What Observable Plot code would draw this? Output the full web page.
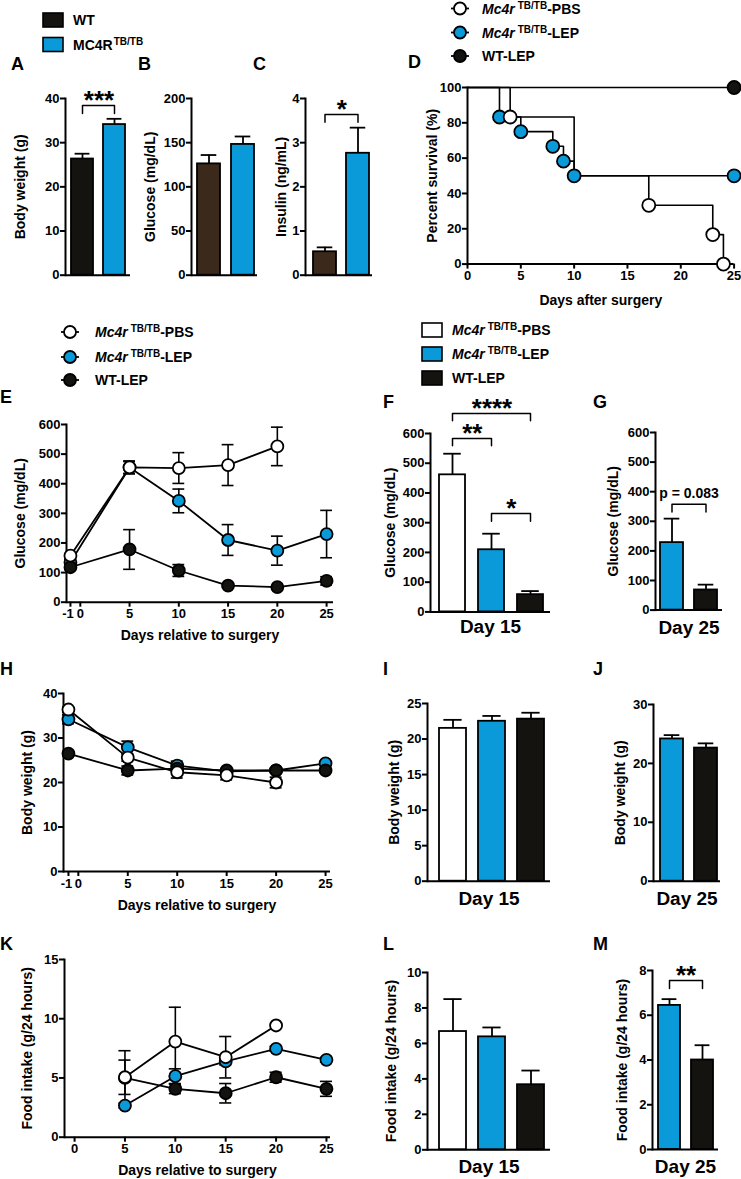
<!DOCTYPE html>
<html>
<head>
<meta charset="utf-8">
<script src="https://cdn.jsdelivr.net/npm/d3@7"></script>
<script src="https://cdn.jsdelivr.net/npm/@observablehq/plot@0.6"></script>
<style>
  html, body { margin: 0; padding: 0; background: #ffffff; }
  #fig { position: relative; width: 741px; height: 1179px; overflow: hidden; background: #fff; }
  #fig .panel { position: absolute; }
  #fig .panel svg { overflow: visible; max-width: none; }
  #overlay { position: absolute; left: 0; top: 0; pointer-events: none; }
</style>
</head>
<body>
<div id="fig"></div>
<script>
// ================= DATA =================
// Panels A–C (baseline WT vs MC4R TB/TB)
const groupsAC = ["WT", "MC4R"];
const bodyWeightA = [26.3, 34.1];
const bodyWeightAErr = [1.2, 1.3];
const glucoseB = [126, 148];
const glucoseBErr = [10, 9];
const insulinC = [0.53, 2.76];
const insulinCErr = [0.1, 0.58];

// Panel D – survival (%)
const survPBSDays = [0, 4, 10, 17, 23, 24];
const survPBSPct = [100, 83.3, 50, 33.3, 16.7, 0];
const survPBSMarks = [4, 17, 23, 24];
const survLEPDays = [0, 3, 5, 8, 9, 10, 25];
const survLEPPct = [100, 83.3, 75, 66.7, 58.3, 50, 50];
const survLEPMarks = [3, 5, 8, 9, 10, 25];
const survWTDays = [0, 25];
const survWTPct = [100, 100];
const survWTMarks = [25];

// Panel E – glucose time course (mg/dL)
const daysE = [-1, 5, 10, 15, 20, 25];
const glucosePBS = [157, 455, 453, 463, 526, null];
const glucosePBSErr = [6, 22, 52, 69, 65, null];
const glucoseLEP = [135, 455, 342, 210, 174, 230];
const glucoseLEPErr = [10, 20, 40, 52, 49, 80];
const glucoseWT = [118, 178, 107, 56, 51, 72];
const glucoseWTErr = [8, 67, 20, 5, 4, 14];

// Panel H – body weight time course (g)
const daysH = [-1, 5, 10, 15, 20, 25];
const weightPBS = [36.4, 25.6, 22.3, 21.6, 20.0, null];
const weightPBSErr = [0.6, 0.8, 1.3, 1.0, 1.2, null];
const weightLEP = [34.2, 27.9, 23.8, 22.5, 22.7, 24.3];
const weightLEPErr = [1.0, 1.4, 1.0, 0.4, 0.5, 0.4];
const weightWT = [26.5, 22.7, 23.1, 22.7, 22.7, 22.7];
const weightWTErr = [0.5, 1.0, 0.5, 0.4, 0.4, 0.4];

// Panel K – food intake time course (g/24 h)
const daysK = [5, 10, 15, 20, 25];
const foodPBS = [5.06, 8.07, 6.75, 9.43, null];
const foodPBSErr = [1.45, 2.9, 1.75, 0, null];
const foodLEP = [2.67, 5.15, 6.4, 7.46, 6.53];
const foodLEPErr = [0.2, 0.62, 0.3, 0.2, 0.2];
const foodWT = [5.0, 4.08, 3.71, 5.06, 4.08];
const foodWTErr = [2.3, 0.4, 0.82, 0.42, 0.63];

// Day 15 / Day 25 bar panels
const groupsDay15 = ["PBS", "LEP", "WT"];
const groupsDay25 = ["LEP", "WT"];
const glucoseDay15 = [461, 209, 58];
const glucoseDay15Err = [71, 54, 12];
const glucoseDay25 = [228, 68];
const glucoseDay25Err = [81, 18];
const weightDay15 = [21.5, 22.5, 22.8];
const weightDay15Err = [1.2, 0.75, 0.9];
const weightDay25 = [24.15, 22.6];
const weightDay25Err = [0.65, 0.8];
const foodDay15 = [6.67, 6.37, 3.67];
const foodDay15Err = [1.83, 0.53, 0.8];
const foodDay25 = [6.44, 4.0];
const foodDay25Err = [0.28, 0.66];

// Tick labels
const ticksA = [0, 10, 20, 30, 40];
const ticksB = [0, 50, 100, 150, 200];
const ticksC = [0, 1, 2, 3, 4];
const ticksDx = [0, 5, 10, 15, 20, 25];
const ticksDy = [0, 20, 40, 60, 80, 100];
const ticksEy = [0, 100, 200, 300, 400, 500, 600];
const ticksTime = [-1, 0, 5, 10, 15, 20, 25];
const ticksHy = [0, 10, 20, 30, 40];
const ticksKx = [0, 5, 10, 15, 20, 25];
const ticksKy = [0, 5, 10, 15];
const ticksI = [0, 5, 10, 15, 20, 25];
const ticksJ = [0, 10, 20, 30];
const ticksL = [0, 2, 4, 6, 8, 10];
const ticksM = [0, 2, 4, 6, 8];

// Significance annotations (bracket top in data units, drop length in data units)
const sigA = [{from: "WT", to: "MC4R", y: 38.4, drop: 1.8, label: "***"}];
const sigC = [{from: "WT", to: "MC4R", y: 3.64, drop: 0.18, label: "*"}];
const sigF = [
  {from: "PBS", to: "LEP", y: 583, drop: 24, label: "**"},
  {from: "PBS", to: "WT", y: 667, drop: 24, label: "****"},
  {from: "LEP", to: "WT", y: 331, drop: 26, label: "*"}
];
const sigG = [{from: "LEP", to: "WT", y: 358, drop: 27, label: "p = 0.083", small: true}];
const sigM = [{from: "LEP", to: "WT", y: 7.55, drop: 0.36, label: "**"}];

// ================= STYLE / LAYOUT =================
const FONT = '"Liberation Sans", Arial, Helvetica, sans-serif';
const BLUE = "#0a9ad9", BLACK = "#15130f", BROWN = "#3b2a1c", WHITE = "#ffffff";
const colorsAB = {WT: BLACK, MC4R: BLUE};
const colorsBC = {WT: BROWN, MC4R: BLUE};
const colors3 = {PBS: WHITE, LEP: BLUE, WT: BLACK};
const fig = document.getElementById("fig");

function makeBox(f, p) {
  return {
    left: f.x0 - p.l, top: f.yt - p.t,
    width: (f.x1 - f.x0) + p.l + p.r, height: (f.yb - f.yt) + p.t + p.b,
    marginLeft: p.l, marginTop: p.t, marginRight: p.r, marginBottom: p.b
  };
}
function place(svg, box) {
  const d = document.createElement("div");
  d.className = "panel";
  d.style.left = box.left + "px"; d.style.top = box.top + "px";
  d.style.width = box.width + "px"; d.style.height = box.height + "px";
  d.appendChild(svg);
  fig.appendChild(d);
}
const plotStyle = {fontFamily: FONT, fontSize: "13px", fontWeight: "bold", color: "#000",
  background: "transparent", overflow: "visible", maxWidth: "none"};
const PAD = {l: 60, t: 12, r: 10, b: 40};

function rows2(groups, vals, errs) {
  return groups.map((g, i) => ({g, v: vals[i], e: errs[i]}));
}
function seriesRows(days, vals, errs) {
  return days.map((d, i) => ({day: d, v: vals[i], e: errs[i]})).filter(r => r.v != null);
}
function yTitle(title, dx) {
  return Plot.text([title], {text: d => d, frameAnchor: "left", rotate: -90, textAnchor: "middle", lineAnchor: "middle",
    dx, fontSize: 14, fontWeight: "bold"});
}
function bottomText(label, dy, size) {
  return Plot.text([label], {text: d => d, frameAnchor: "bottom", textAnchor: "middle", lineAnchor: "middle",
    dy, fontSize: size, fontWeight: "bold"});
}

function barPanel(c) {
  const f = c.f, box = makeBox(f, PAD);
  const n = c.groups.length;
  const step = (f.x1 - f.x0) / (n - c.pi + 2 * c.po);
  const bw = step * (1 - c.pi);
  const rows = rows2(c.groups, c.values, c.errs);
  const marks = [
    Plot.barY(rows, {x: "g", y: "v", fill: d => c.colors[d.g], stroke: "#000", strokeWidth: 1.8}),
    Plot.ruleX(rows, {x: "g", y1: "v", y2: d => d.v + d.e, stroke: "#000", strokeWidth: 1.8}),
    Plot.tickY(rows, {x: "g", y: d => d.v + d.e, stroke: "#000", strokeWidth: 1.8, insetLeft: bw * 0.16, insetRight: bw * 0.16}),
    Plot.ruleY([c.yDomain[0]], {stroke: "#000", strokeWidth: 2}),
    Plot.frame({anchor: "left", stroke: "#000", strokeWidth: 2}),
    Plot.axisY({ticks: c.yTicks, tickSize: 5, tickPadding: 1, strokeWidth: 2, label: null, tickFormat: d => String(d)}),
    yTitle(c.title, c.titleX - f.x0)
  ];
  if (c.day) marks.push(bottomText(c.day, c.dayY - f.yb, 19));
  if (c.sig) {
    const pts = [];
    c.sig.forEach((b, i) => {
      pts.push({id: i, g: b.from, y: b.y - b.drop}, {id: i, g: b.from, y: b.y}, {id: i, g: b.to, y: b.y}, {id: i, g: b.to, y: b.y - b.drop});
    });
    marks.push(Plot.line(pts, {x: "g", y: "y", z: "id", stroke: "#000", strokeWidth: 1.5}));
    c.sig.forEach(b => {
      const span = c.groups.indexOf(b.to) - c.groups.indexOf(b.from);
      marks.push(Plot.text([b], {x: "from", y: "y", text: "label", dx: span * step / 2,
        textAnchor: "middle", lineAnchor: "middle",
        dy: b.small ? -11 : -5, fontSize: b.small ? 14 : 26, fontWeight: "bold"}));
    });
  }
  const svg = Plot.plot({
    width: box.width, height: box.height,
    marginLeft: box.marginLeft, marginTop: box.marginTop, marginRight: box.marginRight, marginBottom: box.marginBottom,
    x: {type: "band", domain: c.groups, paddingInner: c.pi, paddingOuter: c.po, align: c.align, axis: null},
    y: {domain: c.yDomain, axis: null},
    style: plotStyle,
    marks
  });
  place(svg, box);
}

function linePanel(c) {
  const f = c.f, box = makeBox(f, PAD);
  const cap = c.cap;
  const shifted = c.shiftTicks || [];
  const marks = [
    Plot.ruleY([c.yDomain[0]], {stroke: "#000", strokeWidth: 2}),
    Plot.frame({anchor: "left", stroke: "#000", strokeWidth: 2}),
    Plot.axisY({ticks: c.yTicks, tickSize: 5, tickPadding: 1, strokeWidth: 2, label: null, tickFormat: d => String(d)}),
    Plot.axisX({ticks: c.xTicks, tickSize: 5, tickPadding: 2, strokeWidth: 2, label: null,
      tickFormat: d => shifted.includes(d) ? "" : String(d)}),
    yTitle(c.title, c.titleX - f.x0),
    bottomText(c.xTitle, c.xTitleY - f.yb, 14)
  ];
  if (shifted.length) {
    marks.push(Plot.text(shifted, {x: d => d, text: d => String(d), frameAnchor: "bottom", lineAnchor: "top",
      textAnchor: "middle", dy: 7, dx: c.shiftDx, fontSize: 13, fontWeight: "bold"}));
  }
  for (const s of c.series) {
    if (s.step) marks.push(Plot.line(s.rows, {x: "day", y: "v", curve: "step-after", stroke: "#000", strokeWidth: 1.6}));
    else marks.push(Plot.line(s.rows, {x: "day", y: "v", stroke: "#000", strokeWidth: 1.8}));
  }
  for (const s of c.series) {
    if (!s.errors) continue;
    const er = s.rows.filter(r => r.e > 0);
    marks.push(
      Plot.ruleX(er, {x: "day", y1: d => d.v - d.e, y2: d => d.v + d.e, stroke: "#000", strokeWidth: 1.6}),
      Plot.ruleY(er, {x1: d => d.day - cap, x2: d => d.day + cap, y: d => d.v + d.e, stroke: "#000", strokeWidth: 1.6}),
      Plot.ruleY(er.filter(d => d.v - d.e > c.yDomain[0]), {x1: d => d.day - cap, x2: d => d.day + cap, y: d => d.v - d.e, stroke: "#000", strokeWidth: 1.6})
    );
  }
  for (const s of c.series) {
    marks.push(Plot.dot(s.marks || s.rows, {x: "day", y: "v", r: c.r || 6, fill: s.color, stroke: "#000", strokeWidth: 1.8}));
  }
  const svg = Plot.plot({
    width: box.width, height: box.height,
    marginLeft: box.marginLeft, marginTop: box.marginTop, marginRight: box.marginRight, marginBottom: box.marginBottom,
    x: {type: "linear", domain: c.xDomain, axis: null},
    y: {type: "linear", domain: c.yDomain, axis: null},
    style: plotStyle,
    marks
  });
  place(svg, box);
}

// ================= PANELS =================
barPanel({f: {x0: 65, x1: 130, yt: 98.3, yb: 275}, groups: groupsAC, values: bodyWeightA, errs: bodyWeightAErr,
  colors: colorsAB, yDomain: [0, 40], yTicks: ticksA, pi: 0.32, po: 0.145, align: 0.52,
  title: "Body weight (g)", titleX: 20, sig: sigA});
barPanel({f: {x0: 191, x1: 257, yt: 98.3, yb: 275}, groups: groupsAC, values: glucoseB, errs: glucoseBErr,
  colors: colorsBC, yDomain: [0, 200], yTicks: ticksB, pi: 0.32, po: 0.13, align: 0.67,
  title: "Glucose (mg/dL)", titleX: 150});
barPanel({f: {x0: 305, x1: 372, yt: 98.3, yb: 275}, groups: groupsAC, values: insulinC, errs: insulinCErr,
  colors: colorsBC, yDomain: [0, 4], yTicks: ticksC, pi: 0.31, po: 0.145, align: 0.74,
  title: "Insulin (ng/mL)", titleX: 281, sig: sigC});

function pick(days, pct, keep) {
  return days.map((d, i) => ({day: d, v: pct[i]})).filter(r => !keep || keep.includes(r.day));
}
linePanel({f: {x0: 466.7, x1: 733.3, yt: 86.7, yb: 263.3}, xDomain: [0, 25], yDomain: [0, 100],
  xTicks: ticksDx, yTicks: ticksDy, title: "Percent survival (%)", titleX: 432,
  xTitle: "Days after surgery", xTitleY: 300, r: 6.5, cap: 0,
  series: [
    {rows: pick(survWTDays, survWTPct), marks: pick(survWTDays, survWTPct, survWTMarks), color: BLACK, step: true},
    {rows: pick(survPBSDays, survPBSPct), marks: [], color: WHITE, step: true},
    {rows: pick(survLEPDays, survLEPPct), marks: pick(survLEPDays, survLEPPct, survLEPMarks), color: BLUE, step: true},
    {rows: [], marks: pick(survPBSDays, survPBSPct, survPBSMarks), color: WHITE, step: true}
  ]});

linePanel({f: {x0: 66, x1: 333, yt: 424, yb: 601.7}, xDomain: [-1.4, 25.7], yDomain: [0, 600],
  xTicks: ticksTime, yTicks: ticksEy, title: "Glucose (mg/dL)", titleX: 20,
  xTitle: "Days relative to surgery", xTitleY: 635, cap: 0.6, shiftTicks: [-1], shiftDx: -2.5,
  series: [
    {rows: seriesRows(daysE, glucoseLEP, glucoseLEPErr), color: BLUE, errors: true},
    {rows: seriesRows(daysE, glucoseWT, glucoseWTErr), color: BLACK, errors: true},
    {rows: seriesRows(daysE, glucosePBS, glucosePBSErr), color: WHITE, errors: true}
  ]});

linePanel({f: {x0: 63, x1: 330, yt: 692.7, yb: 870.7}, xDomain: [-1.5, 25.5], yDomain: [0, 40],
  xTicks: ticksTime, yTicks: ticksHy, title: "Body weight (g)", titleX: 27.5,
  xTitle: "Days relative to surgery", xTitleY: 905, cap: 0.6, shiftTicks: [-1], shiftDx: -2,
  series: [
    {rows: seriesRows(daysH, weightLEP, weightLEPErr), color: BLUE, errors: true},
    {rows: seriesRows(daysH, weightWT, weightWTErr), color: BLACK, errors: true},
    {rows: seriesRows(daysH, weightPBS, weightPBSErr), color: WHITE, errors: true}
  ]});

linePanel({f: {x0: 64, x1: 330, yt: 959, yb: 1136.7}, xDomain: [-1, 25.4], yDomain: [0, 15],
  xTicks: ticksKx, yTicks: ticksKy, title: "Food intake (g/24 hours)", titleX: 27.5,
  xTitle: "Days relative to surgery", xTitleY: 1170, cap: 0.6,
  series: [
    {rows: seriesRows(daysK, foodLEP, foodLEPErr), color: BLUE, errors: true},
    {rows: seriesRows(daysK, foodWT, foodWTErr), color: BLACK, errors: true},
    {rows: seriesRows(daysK, foodPBS, foodPBSErr), color: WHITE, errors: true}
  ]});

barPanel({f: {x0: 430, x1: 550, yt: 433.3, yb: 611.7}, groups: groupsDay15, values: glucoseDay15, errs: glucoseDay15Err,
  colors: colors3, yDomain: [0, 600], yTicks: ticksEy, pi: 0.33, po: 0.184, align: 0.55,
  title: "Glucose (mg/dL)", titleX: 390, day: "Day 15", dayY: 627, sig: sigF});
barPanel({f: {x0: 655, x1: 722, yt: 431.7, yb: 609.3}, groups: groupsDay25, values: glucoseDay25, errs: glucoseDay25Err,
  colors: colors3, yDomain: [0, 600], yTicks: ticksEy, pi: 0.32, po: 0.145, align: 0.5,
  title: "Glucose (mg/dL)", titleX: 613, day: "Day 25", dayY: 627, sig: sigG});
barPanel({f: {x0: 427, x1: 550, yt: 703.3, yb: 881}, groups: groupsDay15, values: weightDay15, errs: weightDay15Err,
  colors: colors3, yDomain: [0, 25], yTicks: ticksI, pi: 0.31, po: 0.2, align: 0.68,
  title: "Body weight (g)", titleX: 394, day: "Day 15", dayY: 899});
barPanel({f: {x0: 653, x1: 720, yt: 704.3, yb: 881}, groups: groupsDay25, values: weightDay25, errs: weightDay25Err,
  colors: colors3, yDomain: [0, 30], yTicks: ticksJ, pi: 0.32, po: 0.145, align: 0.7,
  title: "Body weight (g)", titleX: 620, day: "Day 25", dayY: 899});
barPanel({f: {x0: 427, x1: 550, yt: 971.7, yb: 1149}, groups: groupsDay15, values: foodDay15, errs: foodDay15Err,
  colors: colors3, yDomain: [0, 10], yTicks: ticksL, pi: 0.31, po: 0.2, align: 0.68,
  title: "Food intake (g/24 hours)", titleX: 391, day: "Day 15", dayY: 1166});
barPanel({f: {x0: 652, x1: 718, yt: 970, yb: 1149}, groups: groupsDay25, values: foodDay25, errs: foodDay25Err,
  colors: colors3, yDomain: [0, 8], yTicks: ticksM, pi: 0.32, po: 0.16, align: 0.57,
  title: "Food intake (g/24 hours)", titleX: 622, day: "Day 25", dayY: 1166, sig: sigM});

// ================= OVERLAY: panel letters & legends =================
const ov = d3.select(fig).append("svg").attr("id", "overlay")
  .attr("width", 741).attr("height", 1179)
  .style("font-family", FONT).style("font-weight", "bold");

const panelLetters = [["A", 11, 70], ["B", 138, 70], ["C", 253, 70], ["D", 408, 68],
  ["E", 0, 403], ["F", 383, 408], ["G", 593, 408],
  ["H", 0, 675], ["I", 383, 675], ["J", 593, 675],
  ["K", 0, 950], ["L", 383, 950], ["M", 593, 950]];
ov.selectAll("text.letter").data(panelLetters).join("text").attr("class", "letter")
  .attr("x", d => d[1]).attr("y", d => d[2]).attr("font-size", 18).text(d => d[0]);

function richLabel(t, spec) {
  if (spec.italic) t.append("tspan").attr("font-style", "italic").text(spec.italic);
  if (spec.plain) t.append("tspan").text(spec.plain);
  if (spec.sup) t.append("tspan").attr("font-size", 10).attr("dy", -5).attr("dx", spec.italic ? 3 : 1).text(spec.sup);
  if (spec.rest) t.append("tspan").attr("dy", 5).text(spec.rest);
}
const legendAC = [{key: "WT", plain: "WT"}, {key: "MC4R", plain: "MC4R", sup: "TB/TB"}];
const legend3 = [{key: "PBS", italic: "Mc4r", sup: "TB/TB", rest: "-PBS"},
  {key: "LEP", italic: "Mc4r", sup: "TB/TB", rest: "-LEP"},
  {key: "WT", plain: "WT-LEP"}];

function squareLegend(items, colors, x, ys, tx) {
  items.forEach((it, i) => {
    const g = ov.append("g");
    g.append("rect").attr("x", x).attr("y", ys[i] - 7).attr("width", 20).attr("height", 14)
      .attr("fill", colors[it.key]).attr("stroke", "#000").attr("stroke-width", 1.6);
    richLabel(g.append("text").attr("x", tx).attr("y", ys[i] + 5).attr("font-size", 14), it);
  });
}
function dotLegend(items, colors, cx, ys, tx) {
  items.forEach((it, i) => {
    const g = ov.append("g");
    g.append("line").attr("x1", cx - 9).attr("x2", cx + 9).attr("y1", ys[i]).attr("y2", ys[i])
      .attr("stroke", "#000").attr("stroke-width", 1.8);
    g.append("circle").attr("cx", cx).attr("cy", ys[i]).attr("r", 6)
      .attr("fill", colors[it.key]).attr("stroke", "#000").attr("stroke-width", 1.8);
    richLabel(g.append("text").attr("x", tx).attr("y", ys[i] + 5).attr("font-size", 14), it);
  });
}
squareLegend(legendAC, colorsAB, 43, [20, 44.5], 73);
dotLegend(legend3, colors3, 460, [8.5, 32.5, 56], 482);
dotLegend(legend3, colors3, 70, [332, 357, 380], 95);
squareLegend(legend3, colors3, 422, [330, 354, 378], 452);
</script>
</body>
</html>
